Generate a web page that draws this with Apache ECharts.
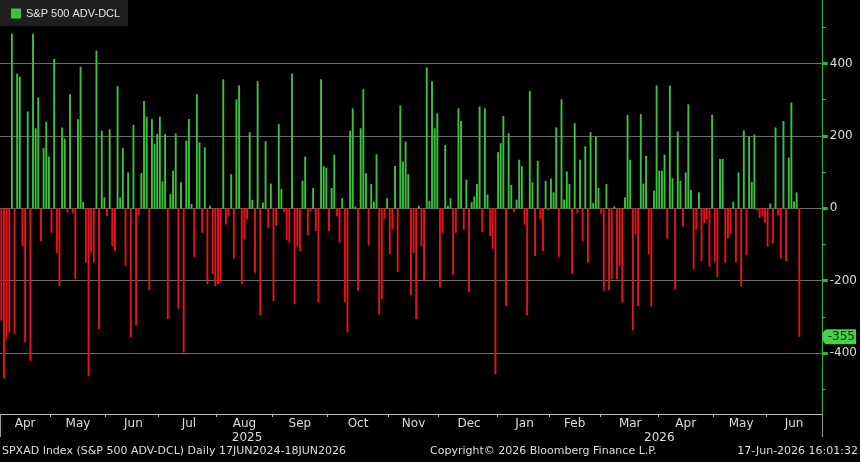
<!DOCTYPE html>
<html>
<head>
<meta charset="utf-8">
<script src="https://cdn.jsdelivr.net/npm/echarts@6/dist/echarts.min.js"></script>
<style>
  html, body { margin: 0; background: #000; }
  #main { width: 860px; height: 462px; }
</style>
</head>
<body>
<div id="main"></div>
<script>
// SPXAD Index - S&P 500 advances minus declines, daily
var months = ['Apr', 'May', 'Jun', 'Jul', 'Aug', 'Sep', 'Oct', 'Nov', 'Dec',
              'Jan', 'Feb', 'Mar', 'Apr', 'May', 'Jun'];
var monthYears = ['2025', '2025', '2025', '2025', '2025', '2025', '2025', '2025', '2025',
                  '2026', '2026', '2026', '2026', '2026', '2026'];
// trading days shown on the axis per month (June 2026 runs on past the last print)
var monthSlots = [19, 21, 20, 22, 21, 21, 23, 19, 22, 20, 19, 22, 21, 20, 21];
var years = ['2025', '2026'];
var yLabels = [400, 200, 0, -200, -400];
var yMinor = [500, 400, 300, 200, 100, 0, -100, -200, -300, -400, -500];

var apr25 = [-310, -470, -360, -343, 482, -347, 372, 363, -105, -370, 267, -421, 482, 221, 306, -91, 166, 239, 143];
var may25 = [-68, 412, -123, -215, 223, 192, -11, 315, -13, -196, 246, 391, 17, -150, -464, -123, -150, 435, -334, 214, 30];
var jun25 = [-22, 218, -105, -118, 337, 30, 166, -158, 99, -357, 230, -323, -20, 97, 296, 253, -226, 246, 178, 205];
var jul25 = [253, 74, 205, -306, 39, 104, 207, -277, 72, -398, 187, 246, 12, -134, 315, 182, -68, 168, -210, 7, -182, -215];
var aug25 = [-210, -205, 356, -45, -22, 94, -139, 301, 339, -210, -86, -31, 210, 23, -178, 351, -295, 16, 185, -54, 68];
var sep25 = [-256, -48, 232, 53, -11, -88, -95, 372, -265, -105, -118, 76, 143, -75, -8, 56, -63, -260, 356, 116, 112];
var oct25 = [-63, 56, 148, -22, -95, 28, -259, -343, 214, 276, 5, -228, 221, 329, 97, -103, 67, 18, 149, -293, -251, -29, 28];
var nov25 = [-127, -59, 117, -176, 284, 129, 184, 94, -240, -123, -306, 7, -105, -201, 389, 21, 351, 221, 262];
var dec25 = [-219, -68, 175, 7, 28, -185, -68, 276, 241, -59, 79, -231, 17, 33, 67, 281, -66, 276, 38, -77, -112, -458];
var jan26 = [155, 180, 255, -270, 207, 65, -10, 24, 134, 116, -45, -295, 324, 72, -132, 131, -31, -118, 76, -6];
var feb26 = [82, 44, 223, -134, 301, 24, 102, 67, -181, 235, -13, 134, -91, 171, -150, 210, 15, 198, 56];
var mar26 = [-15, -228, 67, -226, -196, 5, -196, -160, -260, 30, 258, 134, -337, -72, -270, 260, 68, 145, -127, -271, 49, 339];
var apr26 = [104, 104, 148, -84, 339, 83, -224, 212, 76, -51, 99, 287, 51, -169, -59, 44, -146, -42, -31, -162, 258];
var may26 = [-149, -190, 136, 136, -150, -82, -72, 18, -149, 99, -215, 215, -129, 198, 73, 204, -6, -27, -22, -40];
var jun26 = [-106, 13, -97, 223, -20, -139, 241, -146, 140, 292, 19, 44, -355];

var byMonth = [apr25, may25, jun25, jul25, aug25, sep25, oct25, nov25, dec25,
               jan26, feb26, mar26, apr26, may26, jun26];

var GREEN = '#3fbf3f';
var RED = '#e3141b';
var FONT = 'DejaVu Sans';

// build categories, month ticks and label positions
var cats = [], vals = [];
var monthStart = {}, monthMid = {}, yearStart = {}, yearMid = {};
var lastVal = null;
var yearFirst = {}, yearLast = {};
for (var m = 0; m < months.length; m++) {
  var start = cats.length;
  monthStart[start] = true;
  monthMid[start + Math.floor(monthSlots[m] / 2)] = months[m];
  for (var i = 0; i < monthSlots[m]; i++) {
    var idx = cats.length;
    cats.push(months[m] + ' ' + monthYears[m] + ' #' + (i + 1));
    var v = byMonth[m][i];
    if (v === undefined) {
      vals.push('-');
    } else {
      vals.push(v);
      lastVal = v;
    }
    var y = monthYears[m];
    if (yearFirst[y] === undefined) yearFirst[y] = idx;
    yearLast[y] = idx;
  }
}
years.forEach(function (y) {
  yearMid[Math.floor((yearFirst[y] + yearLast[y]) / 2)] = y;
  if (yearFirst[y] > 0) yearStart[yearFirst[y]] = true;
});

var chart = echarts.init(document.getElementById('main'));

var option = {
  backgroundColor: '#000',
  animation: false,
  textStyle: { fontFamily: FONT },
  legend: {
    left: 0,
    top: 0,
    padding: [8, 8, 7, 11],
    backgroundColor: '#1e1e1e',
    itemWidth: 10,
    itemHeight: 10,
    itemGap: 5,
    textStyle: { color: '#e6e6e6', fontSize: 11, fontFamily: 'Liberation Sans' },
    data: [{ name: 'S&P 500 ADV-DCL', icon: 'rect', itemStyle: { color: GREEN } }]
  },
  grid: { left: 0, right: 37, top: 0, bottom: 48, containLabel: false },
  xAxis: [
    {
      type: 'category',
      data: cats,
      boundaryGap: true,
      axisLine: { show: true, onZero: false, lineStyle: { color: '#bdbdbd', width: 1 } },
      axisTick: {
        show: true,
        length: 3,
        lineStyle: { color: '#bdbdbd' },
        interval: function (index) { return !!monthStart[index] && index > 0; }
      },
      axisLabel: {
        show: true,
        color: '#dcdcdc',
        fontSize: 12,
        margin: 4,
        interval: function (index) { return monthMid[index] !== undefined; },
        formatter: function (value, index) { return monthMid[index] || ''; }
      },
      splitLine: { show: false }
    },
    {
      type: 'category',
      data: cats,
      position: 'bottom',
      boundaryGap: true,
      axisLine: { show: false, onZero: false },
      axisTick: {
        show: true,
        length: 23,
        lineStyle: { color: '#9a9a9a' },
        interval: function (index) { return !!yearStart[index]; }
      },
      axisLabel: {
        show: true,
        color: '#dcdcdc',
        fontSize: 12,
        margin: 18,
        interval: function (index) { return yearMid[index] !== undefined; },
        formatter: function (value, index) { return yearMid[index] || ''; }
      },
      splitLine: { show: false }
    }
  ],
  yAxis: [
    {
      type: 'value',
      position: 'right',
      min: -568,
      max: 575,
      axisLine: { show: true, lineStyle: { color: '#33b533', width: 1 } },
      axisTick: {
        show: true,
        length: 4,
        lineStyle: { color: '#33b533' },
        customValues: yMinor
      },
      axisLabel: {
        show: true,
        color: '#dcdcdc',
        fontSize: 12,
        margin: 8,
        customValues: yLabels
      },
      splitLine: { show: false }
    },
    {
      type: 'value',
      position: 'right',
      min: -568,
      max: 575,
      axisLine: { show: false },
      axisTick: {
        show: true,
        length: 6,
        lineStyle: { color: '#33b533', width: 3 },
        customValues: yLabels
      },
      axisLabel: { show: false },
      splitLine: { show: true, lineStyle: { color: '#6a6a6a', width: 1 } }
    }
  ],
  series: [
    {
      name: 'S&P 500 ADV-DCL',
      type: 'bar',
      xAxisIndex: 0,
      yAxisIndex: 0,
      data: vals,
      barWidth: '72%',
      itemStyle: {
        color: function (p) { return p.value >= 0 ? GREEN : RED; }
      },
      markLine: {
        silent: true,
        symbol: ['none', 'none'],
        data: [
          {
            yAxis: lastVal,
            lineStyle: { color: 'rgba(0,0,0,0)', width: 0 },
            label: {
              show: true,
              position: 'end',
              distance: 1,
              formatter: String(lastVal),
              color: '#0a2a0a',
              fontSize: 12,
              fontFamily: FONT,
              backgroundColor: '#45d045',
              padding: [2, 1, 1, 5],
              borderRadius: [5, 0, 0, 5]
            }
          }
        ]
      }
    }
  ],
  graphic: [
    {
      type: 'text',
      left: 2,
      top: 446,
      style: { text: 'SPXAD Index (S&P 500 ADV-DCL) Daily 17JUN2024-18JUN2026', fill: '#dcdcdc', font: '11px "DejaVu Sans"' }
    },
    {
      type: 'text',
      left: 430,
      top: 446,
      style: { text: 'Copyright\u00a9 2026 Bloomberg Finance L.P.', fill: '#dcdcdc', font: '11px "DejaVu Sans"' }
    },
    {
      type: 'text',
      right: 2,
      top: 446,
      style: { text: '17-Jun-2026 16:01:32', fill: '#dcdcdc', font: '11px "DejaVu Sans"' }
    }
  ]
};

chart.setOption(option);
</script>
</body>
</html>
